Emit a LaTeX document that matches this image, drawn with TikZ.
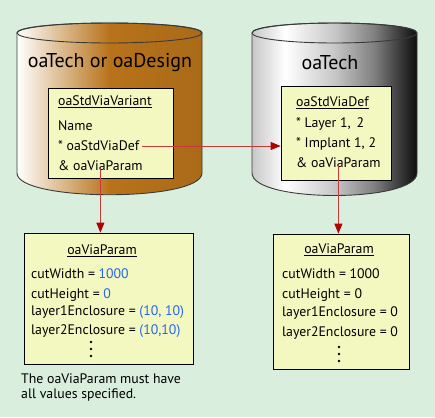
\documentclass[tikz,border=0pt]{standalone}
\usepackage{fontspec}
\setmainfont{PT Sans}
\usetikzlibrary{arrows.meta,shadows}
\definecolor{bg}{HTML}{D9EEDD}
\definecolor{boxfill}{HTML}{F3F8C0}
\definecolor{brownc}{HTML}{B8731A}
\definecolor{valblue}{HTML}{2266EE}
\definecolor{arrowred}{HTML}{C83A3A}
\definecolor{tipred}{HTML}{B00000}
\definecolor{rim}{HTML}{3A3A3A}
\pgfdeclarehorizontalshading{brownshade}{100bp}{color(0bp)=(white); color(25bp)=(white); color(36bp)=(brownc!45!white); color(50bp)=(brownc); color(75bp)=(brownc!92!black); color(100bp)=(brownc!92!black)}
\pgfdeclarehorizontalshading{grayshade}{100bp}{color(0bp)=(black!22); color(25bp)=(black!22); color(35bp)=(white); color(50bp)=(black!22); color(62bp)=(black!50); color(70bp)=(black!78); color(75bp)=(black!95); color(100bp)=(black!95)}
\tikzset{
  cylrim/.style={draw=rim, line width=0.9pt},
  boxstyle/.style={draw=black, line width=0.8pt, fill=boxfill, rectangle, inner sep=0pt,
    drop shadow={shadow xshift=1.3pt, shadow yshift=-1.3pt, opacity=0.3, fill=black}},
  txt/.style={anchor=west, inner sep=0pt, font=\fontsize{13.8}{15}\selectfont},
  ttl/.style={anchor=center, inner sep=0pt, font=\fontsize{20}{23}\selectfont},
  link/.style={draw=arrowred, line width=0.8pt, -{Triangle[length=10pt, width=8pt, fill=tipred, color=tipred]}},
  vdot/.style={fill=black}
}
\newcommand{\ul}[1]{\underline{#1}}
\begin{document}
\begin{tikzpicture}[x=1pt, y=-1pt]
\useasboundingbox (0,0) rectangle (435,417);
\fill[bg] (0,0) rectangle (435,417);

% ---- left cylinder
\path[shading=brownshade, cylrim]
  (17,33) -- (17,173) .. controls (17,202) and (202,202) .. (202,173)
  -- (202,33) .. controls (202,19.7) and (17,19.7) .. (17,33) -- cycle;
\draw[cylrim] (109.5,33) ellipse [x radius=92.5, y radius=10];
\node[ttl] (lcyl) at (110,63) {oaTech or oaDesign};

% ---- right cylinder
\path[shading=grayshade, cylrim]
  (252,33) -- (252,173) .. controls (252,203) and (417,203) .. (417,173)
  -- (417,33) .. controls (417,19.7) and (252,19.7) .. (252,33) -- cycle;
\draw[cylrim] (334.5,33) ellipse [x radius=82.5, y radius=10];
\node[ttl] (rcyl) at (330,63) {oaTech};

% ---- inner boxes
\node[boxstyle, minimum width=125pt, minimum height=90pt] (lin) at (110.5,133) {};
\node[txt] (lt1) at (58,102) {\ul{oaStdViaVariant}};
\node[txt] (lt2) at (58,126) {Name};
\node[txt] (lt3) at (58,146) {* oaStdViaDef};
\node[txt] (lt4) at (58,166) {\& oaViaParam};

\node[boxstyle, minimum width=110pt, minimum height=94pt] (rin) at (336,133) {};
\node[txt] (rt1) at (296,103) {\ul{oaStdViaDef}};
\node[txt] (rt2) at (296,124) {* Layer 1,\, 2};
\node[txt] (rt3) at (296,144) {* Implant 1, 2};
\node[txt] (rt4) at (296,163) {\& oaViaParam};

% ---- bottom boxes
\node[boxstyle, minimum width=169pt, minimum height=131pt] (lbot) at (108.5,298.5) {};
\node[inner sep=0pt, font=\fontsize{13.8}{15}\selectfont] (lb1) at (102,251) {\ul{oaViaParam}};
\node[txt] (lb2) at (31,274) {cutWidth = \textcolor{valblue}{1000}};
\node[txt] (lb3) at (31,295) {cutHeight = \textcolor{valblue}{0}};
\node[txt] (lb4) at (31,312) {layer1Enclosure = \textcolor{valblue}{(10, 10)}};
\node[txt] (lb5) at (31,331) {layer2Enclosure = \textcolor{valblue}{(10,10)}};
\fill[vdot] (91,342) circle (1.4) (91,349) circle (1.4) (91,356) circle (1.4);

\node[boxstyle, minimum width=136pt, minimum height=135pt] (rbot) at (341,301.5) {};
\node[inner sep=0pt, font=\fontsize{13.8}{15}\selectfont] (rb1) at (339,250) {\ul{oaViaParam}};
\node[txt] (rb2) at (282,274) {cutWidth = 1000};
\node[txt] (rb3) at (282,295) {cutHeight = 0};
\node[txt] (rb4) at (282,313) {layer1Enclosure = 0};
\node[txt] (rb5) at (282,333) {layer2Enclosure = 0};
\fill[vdot] (339,347) circle (1.4) (339,354) circle (1.4) (339,361) circle (1.4);

% ---- note
\node[txt, align=left, anchor=north west, font=\fontsize{13.8}{14.5}\selectfont] (note) at (21,374) {The oaViaParam must have\\all values specified.};

% ---- connectors
\draw[link] ([xshift=3pt]lt3.east) -- (lt3.east -| rin.west);
\draw[link] ([yshift=2pt]lt4.south) -- (lt4.south |- lbot.north);
\draw[link] ([yshift=2pt]rt4.south) -- (rt4.south |- rbot.north);
\end{tikzpicture}
\end{document}
